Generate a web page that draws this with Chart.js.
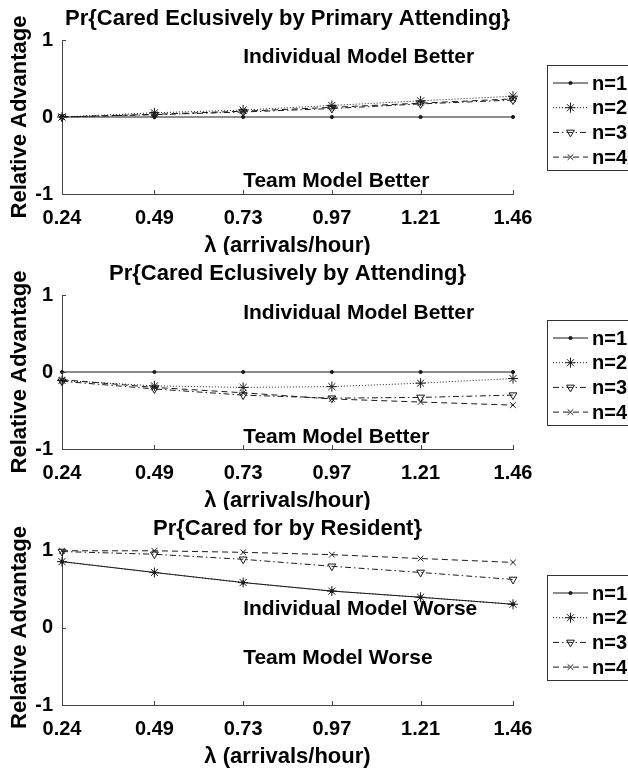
<!DOCTYPE html>
<html><head><meta charset="utf-8">
<script src="https://cdn.jsdelivr.net/npm/chart.js@4.4.1/dist/chart.umd.min.js"></script>
<style>
html,body{margin:0;padding:0;background:#fff;overflow:hidden;}
#wrap{position:relative;width:628px;height:772px;background:#fff;}
.panel{position:absolute;left:0;width:628px;}
</style></head><body>
<div id="wrap">
<div class="panel" style="top:0;height:255px"><canvas id="c1"></canvas></div>
<div class="panel" style="top:255px;height:255px"><canvas id="c2"></canvas></div>
<div class="panel" style="top:510px;height:262px"><canvas id="c3"></canvas></div>
</div>
<script>
// ---- data ----
const xVals = [0.24, 0.49, 0.73, 0.97, 1.21, 1.46];
const xLabels = ['0.24', '0.49', '0.73', '0.97', '1.21', '1.46'];
const yTickVals = [-1, 0, 1];
const seriesNames = ['n=1', 'n=2', 'n=3', 'n=4'];
const panelTitles = ['Pr{Cared Eclusively by Primary Attending}', 'Pr{Cared Eclusively by Attending}', 'Pr{Cared for by Resident}'];
const yAxisTitle = 'Relative Advantage';
const xAxisTitle = 'λ (arrivals/hour)';

// panel 1
const p1n1 = [0, 0, 0, 0, 0, 0];
const p1n2 = [0, 0.055, 0.09, 0.15, 0.21, 0.27];
const p1n3 = [0, 0.03, 0.065, 0.11, 0.17, 0.22];
const p1n4 = [0, 0.035, 0.075, 0.125, 0.18, 0.235];
// panel 2
const p2n1 = [0, 0, 0, 0, 0, 0];
const p2n2 = [-0.11, -0.18, -0.2, -0.19, -0.145, -0.085];
const p2n3 = [-0.12, -0.22, -0.3, -0.34, -0.33, -0.3];
const p2n4 = [-0.1, -0.2, -0.27, -0.35, -0.39, -0.43];
// panel 3
const p3n1 = [0.85, 0.71, 0.58, 0.47, 0.39, 0.3];
const p3n2 = [0.85, 0.71, 0.58, 0.47, 0.39, 0.3];
const p3n3 = [0.98, 0.945, 0.88, 0.79, 0.71, 0.62];
const p3n4 = [0.99, 0.99, 0.97, 0.94, 0.89, 0.84];

const notes1 = [{x: 0.73, y: 0.78, text: 'Individual Model Better'}, {x: 0.73, y: -0.84, text: 'Team Model Better'}];
const notes2 = [{x: 0.73, y: 0.77, text: 'Individual Model Better'}, {x: 0.73, y: -0.85, text: 'Team Model Better'}];
const notes3 = [{x: 0.73, y: 0.23, text: 'Individual Model Worse'}, {x: 0.73, y: -0.4, text: 'Team Model Worse'}];

// ---- style ----
const FONT = "'Liberation Sans', Arial, Helvetica, sans-serif";
const AXIS = '#444';
const LINE = '#1a1a1a';
const styles = [
  {borderDash: [], pointStyle: 'circle', pointRadius: 1.6, pointBackgroundColor: LINE, pointRotation: 0},
  {borderDash: [1, 2], pointStyle: 'star', pointRadius: 5, pointBackgroundColor: 'rgba(0,0,0,0)', pointRotation: 0},
  {borderDash: [6, 3, 1.5, 3], pointStyle: 'triangle', pointRadius: 4.5, pointBackgroundColor: 'rgba(0,0,0,0)', pointRotation: 180},
  {borderDash: [6, 4], pointStyle: 'crossRot', pointRadius: 4, pointBackgroundColor: 'rgba(0,0,0,0)', pointRotation: 0}
];

function makeDatasets(series) {
  return series.map((s, i) => ({
    label: seriesNames[i],
    data: xVals.map((x, j) => ({x: x, y: s[j]})),
    borderColor: LINE,
    borderWidth: 1,
    borderDash: styles[i].borderDash,
    pointStyle: styles[i].pointStyle,
    pointRadius: styles[i].pointRadius,
    pointRotation: styles[i].pointRotation,
    pointBackgroundColor: styles[i].pointBackgroundColor,
    pointBorderColor: LINE,
    pointBorderWidth: 1,
    tension: 0,
    fill: false,
    clip: false
  }));
}

function drawMarker(ctx, st, x, y) {
  if (Chart.helpers && Chart.helpers.drawPoint) {
    ctx.fillStyle = st.pointBackgroundColor;
    ctx.strokeStyle = LINE;
    ctx.lineWidth = 1;
    Chart.helpers.drawPoint(ctx, {pointStyle: st.pointStyle, rotation: st.pointRotation, radius: st.pointRadius, borderWidth: 1}, x, y);
  }
}

function makeDecor(notes) {
  return {
    id: 'decor',
    afterDraw(chart) {
      const ctx = chart.ctx, xs = chart.scales.x, ys = chart.scales.y, a = chart.chartArea;
      ctx.save();
      // inward tick marks
      ctx.strokeStyle = AXIS; ctx.lineWidth = 1; ctx.setLineDash([]);
      ctx.beginPath();
      xs.ticks.forEach(t => {
        const px = Math.round(xs.getPixelForValue(t.value)) + 0.5;
        ctx.moveTo(px, a.bottom); ctx.lineTo(px, a.bottom - 4);
      });
      ys.ticks.forEach(t => {
        const py = Math.round(ys.getPixelForValue(t.value)) + 0.5;
        ctx.moveTo(a.left, py); ctx.lineTo(a.left + 4, py);
      });
      ctx.stroke();
      // annotations
      ctx.fillStyle = '#000';
      ctx.font = 'bold 21px ' + FONT;
      ctx.textAlign = 'left'; ctx.textBaseline = 'middle';
      notes.forEach(n => ctx.fillText(n.text, xs.getPixelForValue(n.x), ys.getPixelForValue(n.y)));
      // legend
      const cy = (a.top + a.bottom) / 2;
      const by = Math.round(cy - 52.5);
      ctx.strokeStyle = '#333'; ctx.lineWidth = 1;
      ctx.strokeRect(547.5, by + 0.5, 200, 105);
      chart.data.datasets.forEach((ds, i) => {
        const ry = by + 18 + i * 24.7;
        ctx.strokeStyle = LINE; ctx.lineWidth = 1;
        ctx.setLineDash(ds.borderDash || []);
        ctx.beginPath(); ctx.moveTo(553, ry); ctx.lineTo(588, ry); ctx.stroke();
        ctx.setLineDash([]);
        drawMarker(ctx, styles[i], 570.5, ry);
        ctx.fillStyle = '#000';
        ctx.font = 'bold 20px ' + FONT;
        ctx.textAlign = 'left'; ctx.textBaseline = 'middle';
        ctx.fillText(ds.label, 592, ry + 1);
      });
      ctx.restore();
    }
  };
}

function makeChart(id, title, series, notes, H, axisBottom, xTitlePad) {
  return new Chart(document.getElementById(id), {
    type: 'line',
    data: {datasets: makeDatasets(series)},
    options: {
      responsive: true,
      maintainAspectRatio: false,
      animation: false,
      layout: {padding: {left: 0, right: 115, top: 0, bottom: 0}},
      plugins: {
        legend: {display: false},
        tooltip: {enabled: false},
        title: {
          display: true, text: title, color: '#000', fullSize: false,
          font: {size: 22, weight: 'bold', family: FONT},
          padding: {top: 6, bottom: 7.6}
        }
      },
      scales: {
        x: {
          type: 'linear', min: xVals[0], max: xVals[xVals.length - 1],
          afterBuildTicks(s) { s.ticks = xVals.map(v => ({value: v})); },
          afterFit(s) { s.height = H - axisBottom; },
          ticks: {
            autoSkip: false, maxRotation: 0, padding: 12, color: '#000',
            font: {size: 20, weight: 'bold', family: FONT},
            callback: (v) => xLabels[xVals.indexOf(v)]
          },
          grid: {display: true, drawOnChartArea: false, drawTicks: false},
          border: {display: true, color: AXIS, width: 1},
          title: {display: true, text: xAxisTitle, color: '#000', font: {size: 22, weight: 'bold', family: FONT}, padding: {top: 0, bottom: xTitlePad}}
        },
        y: {
          min: yTickVals[0], max: yTickVals[yTickVals.length - 1],
          afterBuildTicks(s) { s.ticks = yTickVals.map(v => ({value: v})); },
          afterFit(s) { s.width = 62; },
          ticks: {padding: 9, color: '#000', font: {size: 20, weight: 'bold', family: FONT}},
          grid: {display: true, drawOnChartArea: false, drawTicks: false},
          border: {display: true, color: AXIS, width: 1},
          title: {display: true, text: yAxisTitle, color: '#000', font: {size: 22, weight: 'bold', family: FONT}, padding: {top: 7, bottom: 0}}
        }
      }
    },
    plugins: [makeDecor(notes)]
  });
}

makeChart('c1', panelTitles[0], [p1n1, p1n2, p1n3, p1n4], notes1, 255, 194, -4);
makeChart('c2', panelTitles[1], [p2n1, p2n2, p2n3, p2n4], notes2, 255, 194, -4);
makeChart('c3', panelTitles[2], [p3n1, p3n2, p3n3, p3n4], notes3, 262, 195, 2);
</script>
</body></html>
